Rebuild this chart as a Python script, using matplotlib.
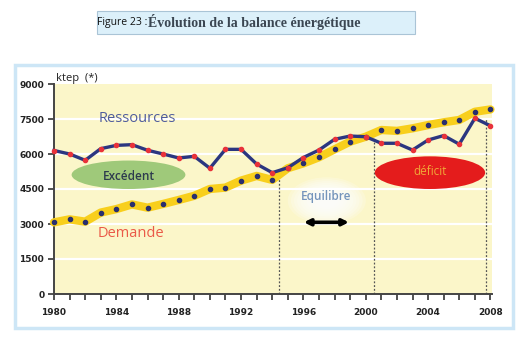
import matplotlib.pyplot as plt
from matplotlib.patches import Ellipse, Rectangle, FancyBboxPatch

# Séries (ktep)
annees = list(range(1980, 2009))
ressources = [6150, 6000, 5730, 6230, 6370, 6400, 6160, 6000, 5830, 5900,
              5390, 6200, 6200, 5570, 5200, 5410, 5850, 6170, 6630, 6770,
              6740, 6460, 6460, 6170, 6600, 6790, 6420, 7530, 7210]
demande = [3070, 3200, 3100, 3490, 3640, 3840, 3700, 3860, 4030, 4210,
           4500, 4560, 4860, 5060, 4890, 5390, 5600, 5860, 6200, 6530,
           6740, 7030, 6990, 7100, 7240, 7360, 7460, 7810, 7910]
y_ticks = [0, 1500, 3000, 4500, 6000, 7500, 9000]
x_ticks = [1980, 1984, 1988, 1992, 1996, 2000, 2004, 2008]
# points de basculement (année, niveau)
bascules = [(1994.45, 4950), (2000.5, 6740), (2007.7, 7560)]

fig = plt.figure(figsize=(5.26, 3.38), dpi=100)

# cadre bleu clair autour du graphique
fig.patches.append(Rectangle((15 / 526, 1 - 328 / 338), 498 / 526, 263 / 338,
                             transform=fig.transFigure, facecolor="white",
                             edgecolor="#cde6f6", linewidth=2.5, zorder=-1))

# bandeau du titre
fig.patches.append(FancyBboxPatch((97 / 526, 1 - 34 / 338), 318 / 526, 23 / 338,
                                  boxstyle="square,pad=0", transform=fig.transFigure,
                                  facecolor="#dcf0fa", edgecolor="#aac4d6",
                                  linewidth=0.8, zorder=-1))
fig.text(97 / 526, 1 - 23 / 338, "Figure 23 :", fontsize=7.5, family="Open Sans",
         color="#111111", va="center", ha="left")
fig.text(148 / 526, 1 - 22 / 338, "Évolution de la balance énergétique", fontsize=10,
         family="Liberation Serif", fontweight="bold", color="#3b4652",
         va="center", ha="left")

ax = fig.add_axes([54 / 526, 44 / 338, 438 / 526, 210 / 338])
ax.set_zorder(2)
ax.set_facecolor("#fbf6c9")
ax.set_xlim(1980, 2008.1)
ax.set_ylim(0, 9000)

for v in y_ticks[1:-1]:
    ax.axhline(v, color="white", linewidth=1.6, zorder=1)

# lignes pointillées aux changements de régime
for x, y in bascules:
    ax.plot([x, x], [0, y], color="#555555", linestyle=(0, (1.5, 1.5)),
            linewidth=0.9, zorder=2)

ax.plot(annees, demande, color="#f8cf1c", linewidth=6, solid_joinstyle="round",
        solid_capstyle="round", zorder=3, clip_on=False)
ax.plot(annees, demande, linestyle="none", marker="o", markersize=3.0,
        color="#2a2f6e", zorder=5, clip_on=False)
ax.plot(annees, ressources, color="#2b3680", linewidth=2.4, solid_joinstyle="round",
        zorder=4, clip_on=False)
ax.plot(annees, ressources, linestyle="none", marker="o", markersize=3.0,
        color="#e8323a", zorder=5, clip_on=False)

# zones annotées
ax.add_patch(Ellipse((1984.78, 5110), 7.3, 1220, facecolor="#9fc97a",
                     edgecolor="none", zorder=2))
ax.text(1984.78, 5040, "Excédent", ha="center", va="center", fontsize=8.5,
        family="Open Sans", fontweight="semibold", color="#2d3b4e", zorder=6)
ax.add_patch(Ellipse((2004.12, 5200), 7.08, 1400, facecolor="#e41c1c",
                     edgecolor="none", zorder=2))
ax.text(2004.12, 5230, "déficit", ha="center", va="center", fontsize=8.5,
        family="Open Sans", color="#f0a838", zorder=6)

# halo blanc autour de "Equilibre"
for i in range(10):
    ax.add_patch(Ellipse((1997.5, 4000), 5.0 - i * 0.4, 2000 - i * 160,
                         facecolor="white", edgecolor="none", alpha=0.22, zorder=2))
ax.text(1997.45, 4170, "Equilibre", ha="center", va="center", fontsize=8.5,
        family="Open Sans", fontweight="semibold", color="#7595bb", zorder=6)
ax.annotate("", xy=(1995.85, 3073), xytext=(1999.1, 3073),
            arrowprops=dict(arrowstyle="<|-|>", color="black", linewidth=2.6,
                            mutation_scale=9), zorder=6)

ax.text(1985.34, 7530, "Ressources", ha="center", va="center", fontsize=10.5,
        family="Open Sans", color="#4f5c9c", zorder=6)
ax.text(1984.91, 2600, "Demande", ha="center", va="center", fontsize=10.5,
        family="Open Sans", color="#ea5a48", zorder=6)
ax.text(1980.15, 9230, "ktep  (*)", ha="left", va="center", fontsize=8,
        family="Open Sans", color="#222222", clip_on=False)

for s in ("top", "right"):
    ax.spines[s].set_visible(False)
for s in ("left", "bottom"):
    ax.spines[s].set_color("#444444")
    ax.spines[s].set_linewidth(1.4)

ax.set_yticks(y_ticks)
ax.set_xticks(x_ticks)
ax.set_xticks(annees, minor=True)
ax.tick_params(axis="both", which="both", direction="out", length=4, width=1.2,
               color="#333333", labelsize=6.5, pad=3)
ax.tick_params(axis="x", pad=6)
for lab in ax.get_xticklabels() + ax.get_yticklabels():
    lab.set_fontweight("bold")
    lab.set_family(["Liberation Sans Narrow", "DejaVu Sans"])
    lab.set_color("#222222")

fig.savefig("out.png", dpi=100)
